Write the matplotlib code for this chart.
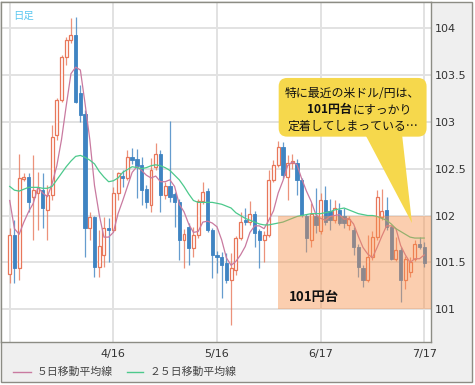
import matplotlib
matplotlib.use("Agg")
import matplotlib.pyplot as plt
from matplotlib.patches import Rectangle, FancyBboxPatch, Polygon
from matplotlib.lines import Line2D

plt.rcParams['font.family'] = ['Noto Sans CJK JP', 'DejaVu Sans']

# USD/JPY daily candles, 2014/3/17 - 7/17 (weekdays)
opens = [101.38, 101.79, 101.44, 102.39, 102.41, 102.20, 102.24, 102.27, 102.06, 102.22,
         102.86, 103.23, 103.69, 103.87, 103.92, 103.31, 103.08, 101.87, 101.98, 101.45,
         101.58, 101.87, 101.85, 102.24, 102.42, 102.40, 102.62, 102.60, 102.54, 102.28,
         102.11, 102.52, 102.66, 102.22, 102.31, 102.23, 102.14, 101.74, 101.88, 101.65,
         101.79, 102.15, 102.26, 101.85, 101.58, 101.56, 101.49, 101.31, 101.42, 101.76,
         101.95, 101.93, 102.02, 101.83, 101.74, 101.79, 102.38, 102.54, 102.73, 102.41,
         102.56, 102.56, 102.38, 101.99, 101.74, 102.00, 101.83, 102.16, 102.05, 101.95,
         102.06, 101.99, 101.90, 101.85, 101.67, 101.44, 101.31, 101.56, 101.77, 101.98,
         102.06, 101.88, 101.54, 101.63, 101.31, 101.40, 101.54, 101.70, 101.67]
highs = [101.87, 101.95, 102.66, 102.45, 102.45, 102.64, 102.46, 102.45, 102.32, 102.96,
         103.25, 103.71, 103.90, 104.10, 104.11, 103.39, 103.12, 102.04, 102.00, 101.85,
         101.98, 101.97, 102.30, 102.46, 102.48, 102.70, 102.72, 102.71, 102.62, 102.32,
         102.61, 102.77, 102.70, 102.36, 103.01, 102.25, 102.18, 101.86, 101.92, 101.88,
         102.18, 102.36, 102.29, 101.87, 101.62, 101.61, 101.60, 101.60, 101.78, 102.04,
         102.08, 102.15, 102.05, 101.86, 101.83, 102.49, 102.59, 102.79, 102.78, 102.64,
         102.66, 102.60, 102.40, 102.02, 102.13, 102.29, 102.24, 102.31, 102.18, 102.17,
         102.13, 102.08, 101.99, 101.88, 101.70, 101.47, 101.79, 101.83, 102.27, 102.28,
         102.20, 101.90, 101.77, 101.66, 101.57, 101.56, 101.74, 101.77, 101.72]
lows = [101.28, 101.28, 101.31, 102.37, 102.04, 101.74, 101.85, 101.87, 101.74, 102.16,
        102.80, 103.21, 103.60, 103.84, 103.20, 103.00, 101.56, 101.74, 101.34, 101.34,
        101.45, 101.50, 101.82, 102.16, 102.30, 102.38, 102.55, 102.19, 102.11, 102.08,
        102.04, 102.48, 102.04, 102.18, 102.14, 101.88, 101.53, 101.44, 101.47, 101.56,
        101.76, 102.12, 101.82, 101.33, 101.39, 101.12, 101.28, 100.83, 101.37, 101.74,
        101.90, 101.90, 101.67, 101.44, 101.51, 101.77, 102.36, 102.52, 102.40, 102.16,
        102.50, 102.22, 101.98, 101.61, 101.67, 101.81, 101.80, 101.90, 101.85, 101.92,
        101.90, 101.87, 101.85, 101.58, 101.35, 101.24, 101.29, 101.53, 101.74, 101.95,
        101.85, 101.53, 101.52, 101.08, 101.22, 101.35, 101.52, 101.64, 101.45]
closes = [101.79, 101.44, 102.40, 102.41, 102.14, 102.27, 102.29, 102.08, 102.22, 102.84,
          103.23, 103.69, 103.87, 103.92, 103.21, 103.07, 101.87, 101.98, 101.45, 101.68,
          101.87, 101.85, 102.24, 102.45, 102.40, 102.62, 102.59, 102.53, 102.27, 102.14,
          102.49, 102.66, 102.22, 102.31, 102.20, 102.14, 101.74, 101.80, 101.65, 101.79,
          102.15, 102.25, 101.85, 101.58, 101.56, 101.47, 101.31, 101.44, 101.76, 101.93,
          101.93, 102.02, 101.81, 101.74, 101.79, 102.38, 102.54, 102.73, 102.43, 102.56,
          102.58, 102.38, 102.01, 101.76, 102.02, 101.90, 102.16, 101.93, 101.95, 102.08,
          101.92, 101.92, 101.96, 101.67, 101.45, 101.31, 101.56, 101.77, 102.20, 102.05,
          101.88, 101.54, 101.63, 101.31, 101.54, 101.50, 101.70, 101.67, 101.49]

# moving averages
ma5 = [102.16, 101.86, 101.80, 101.93, 102.04, 102.13, 102.30, 102.24, 102.20, 102.34,
       102.53, 102.81, 103.17, 103.51, 103.58, 103.55, 103.19, 102.81, 102.32, 102.01,
       101.77, 101.77, 101.82, 102.02, 102.16, 102.31, 102.46, 102.52, 102.48, 102.43,
       102.40, 102.42, 102.36, 102.36, 102.38, 102.31, 102.12, 102.04, 101.91, 101.82,
       101.83, 101.93, 101.94, 101.92, 101.88, 101.74, 101.55, 101.47, 101.51, 101.58,
       101.67, 101.82, 101.89, 101.89, 101.86, 101.95, 102.05, 102.24, 102.37, 102.53,
       102.57, 102.54, 102.39, 102.26, 102.15, 102.01, 101.97, 101.95, 101.99, 102.00,
       102.01, 101.96, 101.97, 101.91, 101.78, 101.66, 101.59, 101.55, 101.66, 101.78,
       101.89, 101.89, 101.86, 101.68, 101.58, 101.50, 101.54, 101.54, 101.58]
ma25 = [102.31, 102.27, 102.26, 102.28, 102.30, 102.30, 102.30, 102.29, 102.29, 102.31,
        102.38, 102.45, 102.52, 102.58, 102.63, 102.64, 102.62, 102.59, 102.55, 102.47,
        102.41, 102.36, 102.37, 102.40, 102.46, 102.49, 102.52, 102.51, 102.50, 102.51,
        102.53, 102.54, 102.53, 102.51, 102.48, 102.43, 102.38, 102.31, 102.23, 102.16,
        102.14, 102.14, 102.14, 102.14, 102.13, 102.12, 102.10, 102.08, 102.03, 102.00,
        101.97, 101.95, 101.93, 101.91, 101.90, 101.90, 101.91, 101.92, 101.93, 101.95,
        101.97, 101.99, 102.00, 102.01, 102.02, 102.02, 102.02, 102.03, 102.04, 102.06,
        102.07, 102.08, 102.06, 102.04, 102.02, 102.01, 102.00, 102.00, 101.99, 101.97,
        101.95, 101.91, 101.86, 101.83, 101.80, 101.77, 101.76, 101.76, 101.76]

tick_pos = [0, 22, 44, 66, 88]
tick_labels = ['', '4/16', '5/16', '6/17', '7/17']
y_ticks = [101, 101.5, 102, 102.5, 103, 103.5, 104]
y_labels = ['101', '101.5', '102', '102.5', '103', '103.5', '104']

UP = '#e8775a'
DOWN = '#3f84c2'
W, H = 475, 385


def fx(px):
    return px / W


def fy(py):
    return 1 - py / H


fig = plt.figure(figsize=(W / 100, H / 100), dpi=100, facecolor='white')
fig.patches.append(Rectangle((fx(1), fy(382)), fx(471), 380 / H, transform=fig.transFigure,
                             facecolor='#efefef', edgecolor='#8c8c84', lw=1, zorder=-5))

ax = fig.add_axes([fx(1), fy(342), 430 / W, 340 / H])
ax.set_zorder(2)
ax.set_facecolor('white')
ax.set_xlim(-1.85, 89.44)
ax.set_ylim(100.653, 104.274)

x = list(range(len(closes)))
for i in x:
    o, h, l, c = opens[i], highs[i], lows[i], closes[i]
    col = UP if c >= o else DOWN
    ax.vlines(i, l, h, color=col, lw=0.9, alpha=0.8, zorder=2)
    if c >= o:
        ax.bar(i, max(c - o, 0.008), bottom=o, width=0.62, facecolor='white',
               edgecolor=UP, lw=0.9, zorder=3)
    else:
        ax.bar(i, o - c, bottom=c, width=0.72, facecolor=DOWN, edgecolor=DOWN,
               lw=0.6, zorder=3)

ax.plot(x, ma5, color='#c97aa0', lw=0.9, zorder=4)
ax.plot(x, ma25, color='#4cc98c', lw=0.9, zorder=4)

# 101 yen band
ax.add_patch(Rectangle((56.9, 101), 89.44 - 56.9, 1.0, facecolor='#f88f47', alpha=0.43,
                       lw=0, zorder=5))
ax.text(59.2, 101.13, '101円台', fontsize=9.5, fontweight='bold', color='#111111',
        va='center', ha='left', zorder=6)

# speech bubble
ax.add_patch(Polygon([(75.5, 102.86), (83.3, 102.86), (85.4, 101.92)], closed=True,
                     facecolor='#f6d84c', edgecolor='none', zorder=7))
ax.add_patch(FancyBboxPatch((57.1, 102.84), 31.4, 0.625,
                            boxstyle='round,pad=0,rounding_size=1.8', mutation_aspect=0.05,
                            facecolor='#f6d84c', edgecolor='none', zorder=7))
ax.text(72.8, 103.30, '特に最近の米ドル/円は、', fontsize=8.6, ha='center', va='center',
        color='#111111', zorder=8)
ax.text(72.7, 103.125, '101円台', fontsize=8.6, fontweight='bold', ha='right', va='center',
        color='#111111', zorder=8)
ax.text(72.7, 103.125, 'にすっかり', fontsize=8.6, ha='left', va='center',
        color='#111111', zorder=8)
ax.text(72.9, 102.95, '定着してしまっている…', fontsize=8.6, ha='center', va='center',
        color='#111111', zorder=8)

ax.set_xticks(tick_pos)
ax.set_xticklabels(tick_labels, fontsize=8, color='#333333', family='DejaVu Sans')
ax.set_yticks(y_ticks)
ax.set_yticklabels(y_labels, fontsize=8, color='#333333', family='DejaVu Sans')
ax.yaxis.tick_right()
ax.tick_params(axis='both', length=0)
ax.tick_params(axis='y', pad=2.5)
ax.tick_params(axis='x', pad=5)
ax.grid(color='#e2e2e2', lw=1.4)
ax.set_axisbelow(True)
for s in ax.spines.values():
    s.set_color('#8c8c84')
    s.set_linewidth(1)

ax.text(0.028, 0.975, '日足', transform=ax.transAxes, fontsize=7.5, color='#5cc8f0',
        ha='left', va='top')

# legend along the bottom
fig.add_artist(Line2D([fx(13), fx(31)], [fy(372), fy(372)], color='#c97aa0', lw=1))
fig.text(fx(37), fy(372), '５日移動平均線', fontsize=7.8, color='#444444', va='center')
fig.add_artist(Line2D([fx(127), fx(143)], [fy(372), fy(372)], color='#4cc98c', lw=1))
fig.text(fx(150), fy(372), '２５日移動平均線', fontsize=7.8, color='#444444', va='center')

fig.savefig('out.png', dpi=100, facecolor='white')
